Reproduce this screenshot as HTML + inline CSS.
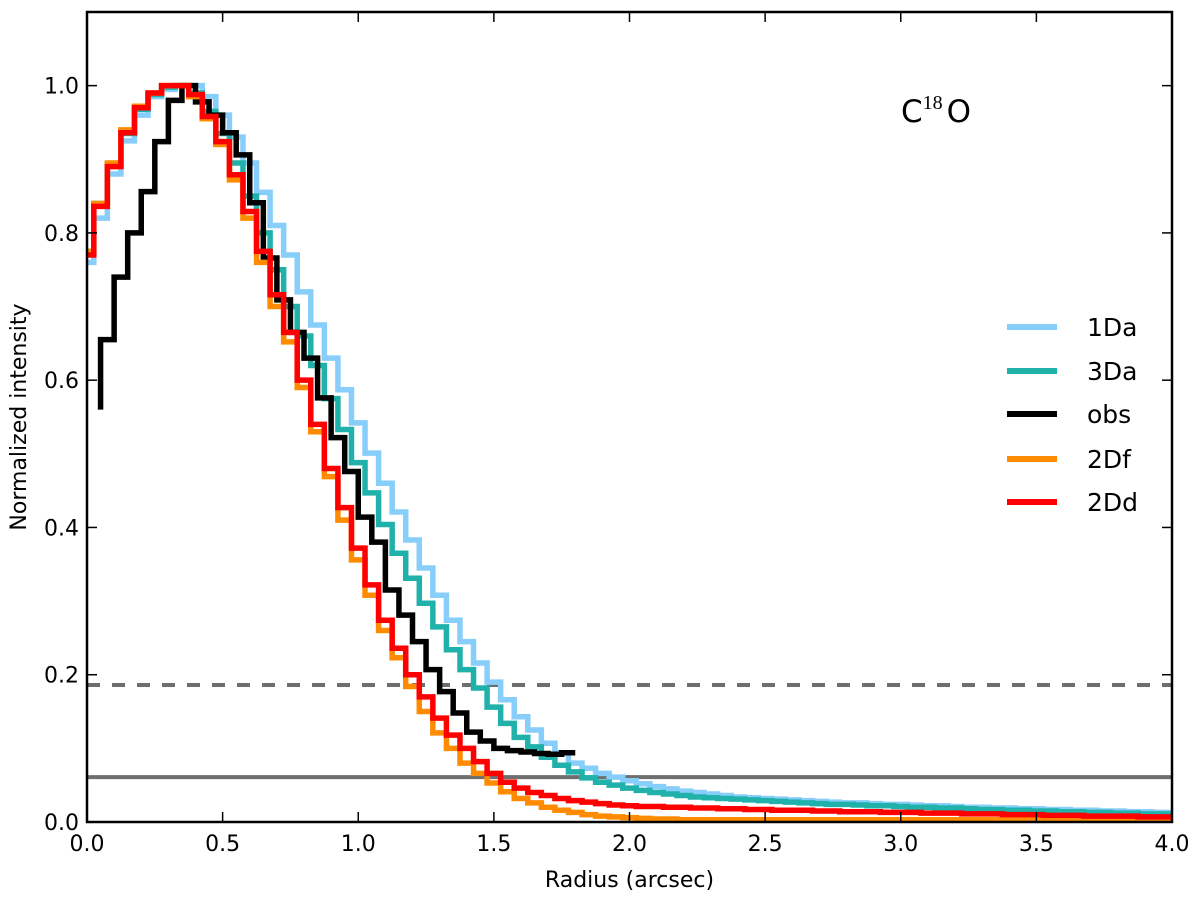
<!DOCTYPE html>
<html><head><meta charset="utf-8"><style>
html,body{margin:0;padding:0;background:#fff;}
svg{display:block;font-family:"DejaVu Sans","Liberation Sans",sans-serif;}
</style></head><body>
<svg id="chart" width="1200" height="897" viewBox="0 0 1200 897" xmlns="http://www.w3.org/2000/svg">
<g id="plot"></g>
</svg>
<script>
const xTicks=[0,0.5,1,1.5,2,2.5,3,3.5,4];
const xTickLabels=["0.0","0.5","1.0","1.5","2.0","2.5","3.0","3.5","4.0"];
const yTicks=[0,0.2,0.4,0.6,0.8,1.0];
const yTickLabels=["0.0","0.2","0.4","0.6","0.8","1.0"];
const binWidth=0.05;
const s1Da=[.76,.82,.88,.925,.96,.985,.995,1.0,1.0,.985,.96,.93,.895,.855,.81,.77,.72,.675,.63,.587,.542,.501,.46,.421,.383,.345,.308,.274,.245,.216,.19,.166,.143,.125,.107,.094,.08,.073,.066,.061,.056,.052,.048,.045,.042,.040,.038,.036,.034,.033,.032,.031,.030,.029,.028,.027,.026,.026,.025,.024,.024,.023,.022,.022,.021,.020,.020,.019,.019,.018,.018,.017,.017,.016,.016,.015,.015,.014,.014,.013,.013];
const s3Da=[.775,.84,.893,.935,.968,.988,.998,1.0,.99,.965,.935,.895,.85,.80,.75,.70,.66,.62,.575,.533,.488,.447,.404,.365,.331,.297,.265,.234,.207,.182,.156,.134,.115,.102,.088,.077,.068,.06,.054,.05,.046,.043,.040,.038,.036,.034,.033,.032,.031,.030,.029,.028,.027,.026,.025,.024,.024,.023,.022,.022,.021,.020,.020,.019,.019,.018,.017,.017,.016,.016,.015,.015,.014,.014,.013,.013,.012,.012,.011,.011,.011];
const s2Df=[.775,.84,.895,.94,.972,.99,1.0,1.0,.985,.955,.92,.872,.82,.76,.70,.652,.59,.53,.469,.41,.356,.308,.26,.223,.184,.15,.121,.10,.08,.066,.053,.041,.032,.026,.02,.016,.013,.01,.008,.007,.006,.005,.004,.004,.003,.003,.003,.003,.003,.003,.003,.003,.003,.003,.003,.003,.003,.003,.003,.003,.003,.003,.003,.003,.003,.003,.003,.003,.003,.003,.003,.003,.003,.003,.003,.003,.003,.003,.003,.003,.003];
const s2Dd=[.77,.836,.89,.936,.97,.99,1.0,1.0,.988,.958,.924,.879,.829,.775,.716,.665,.60,.54,.48,.427,.372,.322,.274,.236,.20,.17,.141,.118,.10,.082,.066,.054,.046,.040,.036,.032,.029,.027,.025,.023,.022,.021,.021,.020,.020,.019,.019,.018,.018,.017,.017,.016,.016,.016,.015,.015,.014,.014,.014,.013,.013,.013,.012,.012,.012,.011,.011,.011,.010,.010,.010,.009,.009,.009,.008,.008,.008,.008,.007,.007,.007];
const obsStartX=0.05;
const obsStartY=0.56;
const obs=[.655,.74,.80,.856,.924,.98,1.0,.978,.96,.936,.906,.841,.766,.709,.665,.63,.576,.522,.476,.414,.38,.315,.281,.245,.207,.177,.148,.122,.11,.10,.097,.095,.093,.092,.094];
const limitDashed=0.186;
const limitSolid=0.061;
const seriesNames=["1Da","3Da","obs","2Df","2Dd"];
const seriesColors=["#87cefa","#20b2aa","#000000","#ff8c00","#ff0000"];

const NS="http://www.w3.org/2000/svg";
const L=87,R=1172,T=12,B=822,xMax=4,yMax=1.1;
const X=v=>L+(v/xMax)*(R-L);
const Y=v=>B-(v/yMax)*(B-T);
const g=document.getElementById('plot');
function mk(tag,attrs,parent){const e=document.createElementNS(NS,tag);for(const k in attrs)e.setAttribute(k,attrs[k]);(parent||g).appendChild(e);return e;}

const defs=mk('defs',{});
const cp=mk('clipPath',{id:'clip'},defs);
mk('rect',{x:L,y:T,width:R-L,height:B-T},cp);
const data=mk('g',{'clip-path':'url(#clip)'});



function stepMid(vals){
  let d='';
  for(let k=0;k<vals.length;k++){
    const x0=Math.max(0,(k-0.5)*binWidth),x1=(k+0.5)*binWidth;
    d+=(k===0?'M':'L')+X(x0).toFixed(2)+','+Y(vals[k]).toFixed(2)+'L'+X(Math.min(x1,xMax)).toFixed(2)+','+Y(vals[k]).toFixed(2);
  }
  return d;
}
function stepObs(){
  let d='M'+X(obsStartX)+','+Y(obsStartY);
  for(let k=0;k<obs.length;k++){
    const x0=obsStartX+k*binWidth,x1=x0+binWidth;
    d+='L'+X(x0).toFixed(2)+','+Y(obs[k]).toFixed(2)+'L'+X(x1).toFixed(2)+','+Y(obs[k]).toFixed(2);
  }
  return d;
}
const hl1=mk('line',{x1:L,x2:R,y1:Y(limitDashed),y2:Y(limitDashed),stroke:'#6e6e6e','stroke-width':4,'stroke-dasharray':'13,12'},data);


const hl2=mk('line',{x1:L,x2:R,y1:Y(limitSolid),y2:Y(limitSolid),stroke:'#6e6e6e','stroke-width':4},data);



const paths=[stepMid(s1Da),stepMid(s3Da),stepObs(),stepMid(s2Df),stepMid(s2Dd)];
const lineNames=['series-1da','series-3da','series-obs','series-2df','series-2dd'];
for(let i=0;i<5;i++){
  const p=mk('path',{d:paths[i],fill:'none',stroke:seriesColors[i],'stroke-width':5.5,'stroke-linejoin':'miter'},data);
  
  
}

const fr=mk('rect',{x:L,y:T,width:R-L,height:B-T,fill:'none',stroke:'#000','stroke-width':2.5});



xTicks.forEach((v,i)=>{
  mk('line',{x1:X(v),x2:X(v),y1:B,y2:B-10,stroke:'#000','stroke-width':1.5});
  mk('line',{x1:X(v),x2:X(v),y1:T,y2:T+10,stroke:'#000','stroke-width':1.5});
  const t=mk('text',{x:X(v),y:B+29,'text-anchor':'middle','font-size':22});
  t.textContent=xTickLabels[i];
  
  
});
yTicks.forEach((v,i)=>{
  mk('line',{x1:L,x2:L+10,y1:Y(v),y2:Y(v),stroke:'#000','stroke-width':1.5});
  mk('line',{x1:R,x2:R-10,y1:Y(v),y2:Y(v),stroke:'#000','stroke-width':1.5});
  const t=mk('text',{x:L-8,y:Y(v)+8,'text-anchor':'end','font-size':22});
  t.textContent=yTickLabels[i];
  
  
});
const xl=mk('text',{x:(L+R)/2,y:887,'text-anchor':'middle','font-size':22});
xl.textContent='Radius (arcsec)';


const yl=mk('text',{x:0,y:0,'text-anchor':'middle','font-size':22,transform:'translate(26,'+((T+B)/2)+') rotate(-90)'});
yl.textContent='Normalized intensity';



const tt=mk('text',{x:901,y:122,'font-size':31});


tt.innerHTML='C<tspan font-family="Liberation Serif, serif" font-size="20" dy="-13">18</tspan><tspan dy="13" dx="4">O</tspan>';

const lg=mk('g',{});


const legY=[327,371,414,459,502];
for(let i=0;i<5;i++){
  const ln=mk('line',{x1:1007,x2:1057,y1:legY[i],y2:legY[i],stroke:seriesColors[i],'stroke-width':6},lg);
  
  
  const t=mk('text',{x:1087,y:legY[i]+9,'font-size':25},lg);
  t.textContent=seriesNames[i];
  
  
}
</script>
</body></html>
